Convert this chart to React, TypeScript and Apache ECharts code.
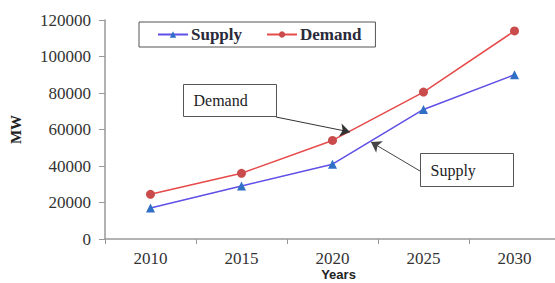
import React, { useEffect, useRef } from "react";
import * as echarts from "echarts";

const years = ["2010", "2015", "2020", "2025", "2030"];
const supply = [17000, 29000, 41000, 71000, 90000];
const demand = [24500, 36000, 54000, 80500, 114000];
const yTicks = { min: 0, max: 120000, interval: 20000 };

const SERIF = "'Liberation Serif', 'Times New Roman', serif";
const SANS = "'Liberation Sans', Arial, sans-serif";

export default function App() {
  const ref = useRef<HTMLDivElement>(null);
  useEffect(() => {
    if (!ref.current) return;
    const chart = echarts.init(ref.current, undefined, { renderer: "svg" });
    chart.setOption({
      animation: false,
      backgroundColor: "#ffffff",
      grid: { left: 105, right: -5, top: 20, bottom: 44, containLabel: false, outerBoundsMode: "none" },
      legend: {
        left: 139,
        top: 22,
        orient: "horizontal",
        borderColor: "#555",
        borderWidth: 1,
        borderRadius: 0,
        padding: [4, 14, 4, 18],
        itemGap: 24,
        itemWidth: 30,
        itemHeight: 8,
        textStyle: { fontFamily: SERIF, fontSize: 17, fontWeight: "bold", color: "#2a2a3a", padding: [0, 0, 0, -2] },
        data: ["Supply", "Demand"],
      },
      xAxis: {
        type: "category",
        data: years,
        boundaryGap: true,
        axisLine: { lineStyle: { color: "#999", width: 1.5 } },
        axisTick: { show: true, length: 5, lineStyle: { color: "#999" } },
        axisLabel: { fontFamily: SERIF, fontSize: 17, color: "#333", margin: 11 },
        name: "Years",
        nameLocation: "middle",
        nameMoveOverlap: false,
        nameGap: 28,
        nameTextStyle: { fontFamily: SANS, fontSize: 13, fontWeight: "bold", color: "#222", padding: [0, 0, 0, 12], lineHeight: 14 },
        splitLine: { show: false },
      },
      yAxis: {
        type: "value",
        min: yTicks.min,
        max: yTicks.max,
        interval: yTicks.interval,
        axisLine: { show: true, lineStyle: { color: "#999", width: 1.5 } },
        axisTick: { show: true, length: 6, lineStyle: { color: "#999" } },
        axisLabel: { fontFamily: SERIF, fontSize: 17, color: "#333", margin: 14, formatter: (v: number) => String(v) },
        splitLine: { show: false },
        name: "MW",
        nameLocation: "middle",
        nameMoveOverlap: false,
        nameRotate: 90,
        nameGap: 82,
        nameTextStyle: { fontFamily: SERIF, fontSize: 15, fontWeight: "bold", color: "#222" },
      },
      series: [
        {
          name: "Supply",
          type: "line",
          data: supply,
          symbol: "triangle",
          symbolSize: 9,
          lineStyle: { color: "#5e4fe6", width: 1.5 },
          itemStyle: { color: "#2f6fc6" },
          markLine: {
            silent: true,
            symbol: ["none", "arrow"],
            symbolSize: 10,
            label: { show: false },
            lineStyle: { color: "#444", width: 1, type: "solid" },
            itemStyle: { color: "#111" },
            data: [[{ x: 420, y: 171 }, { x: 371, y: 142 }]],
          },
        },
        {
          name: "Demand",
          type: "line",
          data: demand,
          symbol: "circle",
          symbolSize: 9,
          lineStyle: { color: "#e64a4a", width: 1.5 },
          itemStyle: { color: "#c94b4b" },
          markLine: {
            silent: true,
            symbol: ["none", "arrow"],
            symbolSize: 10,
            label: { show: false },
            lineStyle: { color: "#333", width: 1, type: "solid" },
            itemStyle: { color: "#111" },
            data: [[{ x: 276, y: 117 }, { x: 350, y: 132 }]],
          },
        },
      ],
      graphic: [
        {
          type: "group",
          left: 183,
          top: 84,
          children: [
            { type: "rect", shape: { x: 0, y: 0, width: 93, height: 32 }, style: { fill: "#fff", stroke: "#555", lineWidth: 1 } },
            { type: "text", x: 10, y: 16, style: { text: "Demand", font: `16px ${SERIF}`, fill: "#222", textVerticalAlign: "middle" } },
          ],
        },
        {
          type: "group",
          left: 420,
          top: 153,
          children: [
            { type: "rect", shape: { x: 0, y: 0, width: 93, height: 33 }, style: { fill: "#fff", stroke: "#555", lineWidth: 1 } },
            { type: "text", x: 10, y: 17, style: { text: "Supply", font: `16px ${SERIF}`, fill: "#222", textVerticalAlign: "middle" } },
          ],
        },
      ],
    });
    return () => chart.dispose();
  }, []);
  return (
    <div
      ref={ref}
      style={{ position: "fixed", left: 0, top: 0, width: 555, height: 283, background: "#fff" }}
    />
  );
}
